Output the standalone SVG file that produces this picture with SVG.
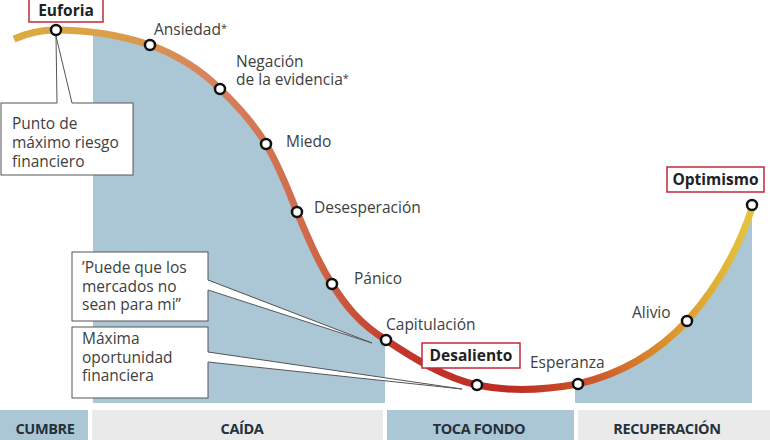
<svg xmlns="http://www.w3.org/2000/svg" width="770" height="440" viewBox="0 0 770 440">
<defs>
<style>
.lbl{font-family:"Open Sans","Liberation Sans",sans-serif;font-size:15.5px;fill:#404040}
.ast{font-size:11px}
.tag{font-family:"Open Sans","Liberation Sans",sans-serif;font-size:15.5px;font-weight:bold;fill:#222;text-anchor:middle}
.tagbox{fill:#fff;stroke:#c2283a;stroke-width:1.5}
.cbox{fill:#fff;stroke:#555;stroke-width:1}
.wedge{fill:#fff;stroke:none}
.wline{fill:none;stroke:#555;stroke-width:1}
.pt{fill:#fff;stroke:#111;stroke-width:2.5}
.phase{font-family:"Open Sans","Liberation Sans",sans-serif;font-size:14.5px;font-weight:bold;fill:#25313d;text-anchor:middle;letter-spacing:-0.4px}
.blue{fill:#abc7d6}
.gray{fill:#eaeaea}
</style>
<linearGradient id="g" gradientUnits="userSpaceOnUse" x1="0" y1="0" x2="770" y2="0">
<stop offset="0" stop-color="#dcae3e"/>
<stop offset="0.13" stop-color="#d9a247"/>
<stop offset="0.26" stop-color="#d8855e"/>
<stop offset="0.40" stop-color="#cf6a4a"/>
<stop offset="0.52" stop-color="#c2372b"/>
<stop offset="0.66" stop-color="#bd2b25"/>
<stop offset="0.78" stop-color="#cd5d2a"/>
<stop offset="0.88" stop-color="#dd9a2e"/>
<stop offset="0.97" stop-color="#e3c33c"/>
</linearGradient>
<clipPath id="fillclip">
<rect x="93" y="0" width="292" height="403"/>
<rect x="575" y="0" width="177" height="403"/>
</clipPath>
<path id="curve" d="M 14 39 C 30 32 45 30 56 30 C 90 30 120 35 150 45 C 180 56 203 72 220 89 C 240 108 254 124 266 144 C 280 168 288 190 297 212 C 308 238 318 262 332 284 C 345 305 360 324 386 340 C 413 358 445 378 477 385 C 510 392 545 390 578 384 C 625 373 660 350 687 321 C 715 290 738 250 752 208"/>
</defs>

<g id="background">
<path class="blue" clip-path="url(#fillclip)" d="M 14 39 C 30 32 45 30 56 30 C 90 30 120 35 150 45 C 180 56 203 72 220 89 C 240 108 254 124 266 144 C 280 168 288 190 297 212 C 308 238 318 262 332 284 C 345 305 360 324 386 340 C 413 358 445 378 477 385 C 510 392 545 390 578 384 C 625 373 660 350 687 321 C 715 290 738 250 752 208 L 752 403 L 14 403 Z"/>
</g>

<g id="phases">
<rect class="blue" x="0" y="410" width="88" height="30"/>
<rect class="gray" x="92" y="410" width="291" height="30"/>
<rect class="blue" x="387" y="410" width="187" height="30"/>
<rect class="gray" x="578" y="410" width="192" height="30"/>
<text class="phase" x="45" y="434">CUMBRE</text>
<text class="phase" x="242" y="434">CAÍDA</text>
<text class="phase" x="479" y="434">TOCA FONDO</text>
<text class="phase" x="667" y="434">RECUPERACIÓN</text>
</g>

<g id="connectors">
<use href="#curve" fill="none" stroke="url(#g)" stroke-width="7" stroke-linecap="butt"/>
</g>

<g id="callout-riesgo">
<rect class="cbox" x="1" y="103" width="132" height="72"/>
<polygon class="wedge" points="56,36 57,104 72,104"/>
<polyline class="wline" points="57,103 56,36 72,103"/>
<text class="lbl" x="12" y="129">Punto de</text>
<text class="lbl" x="12" y="148">máximo riesgo</text>
<text class="lbl" x="12" y="167">financiero</text>
</g>

<g id="callout-mercados">
<rect class="cbox" x="72" y="252" width="136" height="69"/>
<polygon class="wedge" points="207,280 372,343 207,290"/>
<polyline class="wline" points="208,280 372,343 208,290"/>
<text class="lbl" x="82" y="273">’Puede que los</text>
<text class="lbl" x="82" y="292">mercados no</text>
<text class="lbl" x="82" y="310">sean para mi”</text>
</g>

<g id="callout-oportunidad">
<rect class="cbox" x="72" y="327" width="136" height="71"/>
<polygon class="wedge" points="207,352 462,389 207,362"/>
<polyline class="wline" points="208,352 462,389 208,362"/>
<text class="lbl" x="82" y="344">Máxima</text>
<text class="lbl" x="82" y="363">oportunidad</text>
<text class="lbl" x="82" y="381">financiera</text>
</g>

<g id="euforia">
<rect class="tagbox" x="29" y="-2" width="74" height="24"/>
<text class="tag" x="66" y="16">Euforia</text>
<circle class="pt" cx="56" cy="30" r="5"/>
</g>
<g id="ansiedad">
<circle class="pt" cx="150" cy="45" r="5"/>
<text class="lbl" x="154" y="35">Ansiedad<tspan class="ast" dy="-3">*</tspan></text>
</g>
<g id="negacion">
<circle class="pt" cx="220" cy="89" r="5"/>
<text class="lbl" x="236" y="67">Negación</text>
<text class="lbl" x="236" y="85">de la evidencia<tspan class="ast" dy="-3">*</tspan></text>
</g>
<g id="miedo">
<circle class="pt" cx="266" cy="144" r="5"/>
<text class="lbl" x="286" y="147">Miedo</text>
</g>
<g id="desesperacion">
<circle class="pt" cx="297" cy="212" r="5"/>
<text class="lbl" x="314" y="213">Desesperación</text>
</g>
<g id="panico">
<circle class="pt" cx="332" cy="284" r="5"/>
<text class="lbl" x="354" y="284">Pánico</text>
</g>
<g id="capitulacion">
<circle class="pt" cx="386" cy="340" r="5"/>
<text class="lbl" x="386" y="330">Capitulación</text>
</g>
<g id="desaliento">
<rect class="tagbox" x="422" y="343" width="98" height="25"/>
<text class="tag" x="471" y="361">Desaliento</text>
<circle class="pt" cx="477" cy="385" r="5"/>
</g>
<g id="esperanza">
<circle class="pt" cx="578" cy="384" r="5"/>
<text class="lbl" x="530" y="368">Esperanza</text>
</g>
<g id="alivio">
<circle class="pt" cx="687" cy="321" r="5"/>
<text class="lbl" x="632" y="318">Alivio</text>
</g>
<g id="optimismo">
<rect class="tagbox" x="667" y="167" width="97" height="25"/>
<text class="tag" x="715.5" y="185">Optimismo</text>
<circle class="pt" cx="752" cy="205" r="5"/>
</g>
</svg>
